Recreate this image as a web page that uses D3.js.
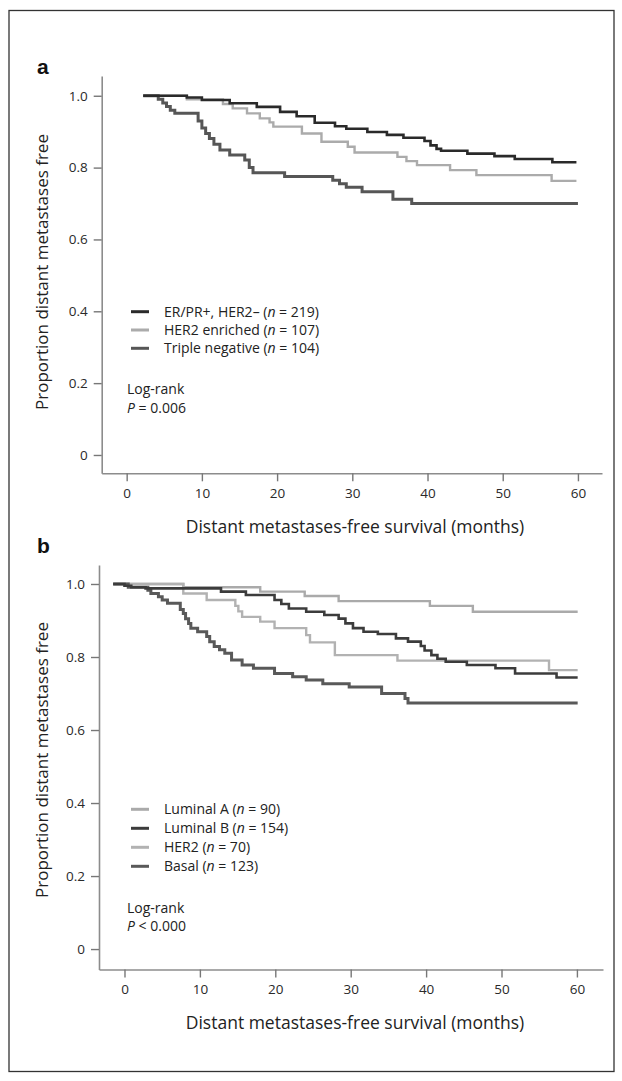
<!DOCTYPE html>
<html>
<head>
<meta charset="utf-8">
<script src="https://cdnjs.cloudflare.com/ajax/libs/d3/7.8.5/d3.min.js"></script>
<style>
  body { margin: 0; background: #fff; }
  text { font-family: "Open Sans", "Noto Sans", sans-serif; }
</style>
</head>
<body>
<div id="chart"></div>
<script>
  // x ticks / y ticks shared by both panels
  var xTicks = [0, 10, 20, 30, 40, 50, 60];
  var yTicks = [0, 0.2, 0.4, 0.6, 0.8, 1.0];

  // panel a : months and survival proportion at each step
  var erTime = [2.2, 8, 10, 13.7, 17.3, 20.4, 22.6, 25, 27.7, 29.2, 32, 34.6, 36.8, 39.6, 40.4, 41.2, 41.8, 45.3, 48.9, 51.6, 56.6, 59.8];
  var erSurv = [1.0, 0.995, 0.988, 0.979, 0.969, 0.955, 0.943, 0.925, 0.915, 0.908, 0.899, 0.891, 0.883, 0.874, 0.862, 0.852, 0.847, 0.839, 0.832, 0.824, 0.815, 0.815];

  var heTime = [2.2, 8, 12.8, 14.1, 16, 17.7, 19.0, 19.5, 23.3, 25.9, 29.4, 30.3, 36, 37.2, 38.6, 43, 46.5, 56.5, 59.8];
  var heSurv = [1.0, 0.99, 0.977, 0.965, 0.951, 0.937, 0.926, 0.914, 0.895, 0.872, 0.858, 0.842, 0.830, 0.818, 0.807, 0.793, 0.779, 0.763, 0.763];

  var tnTime = [2.2, 4.2, 4.8, 5.3, 5.8, 6.4, 9.5, 10.0, 10.5, 11.0, 11.6, 12.4, 13.7, 15.7, 16.3, 16.8, 21, 27.4, 28.3, 29.2, 31.3, 35.4, 37.9, 60];
  var tnSurv = [1.0, 0.99, 0.98, 0.97, 0.96, 0.951, 0.93, 0.91, 0.895, 0.881, 0.865, 0.849, 0.835, 0.821, 0.80, 0.786, 0.775, 0.765, 0.755, 0.745, 0.733, 0.712, 0.700, 0.700];

  // panel b
  var laTime = [-1.5, 7.8, 18, 23.9, 28.4, 40.5, 46.2, 60.1];
  var laSurv = [1.0, 0.991, 0.979, 0.967, 0.953, 0.94, 0.924, 0.924];

  var lbTime = [-1.5, 0, 0.9, 2.8, 12.8, 16.1, 19.9, 20.8, 21.8, 24.1, 26.5, 28.4, 29.3, 30.3, 31.7, 33.6, 36, 37.6, 39.3, 39.8, 40.7, 41.5, 42.6, 45.4, 49.2, 51.8, 57.3, 60.1];
  var lbSurv = [1.0, 0.995, 0.991, 0.988, 0.979, 0.970, 0.956, 0.945, 0.933, 0.924, 0.915, 0.905, 0.892, 0.879, 0.869, 0.863, 0.851, 0.842, 0.83, 0.818, 0.805, 0.795, 0.787, 0.778, 0.769, 0.755, 0.744, 0.744];

  var hbTime = [-1.5, 7.8, 10.9, 14.7, 15.1, 15.6, 18, 19.9, 24.1, 24.6, 27.9, 36.2, 56.3, 60.1];
  var hbSurv = [1.0, 0.974, 0.956, 0.94, 0.925, 0.910, 0.897, 0.879, 0.860, 0.840, 0.805, 0.790, 0.764, 0.764];

  var baTime = [-1.5, 0.5, 3.1, 3.5, 4.5, 5.0, 5.7, 7.4, 7.8, 8.1, 8.5, 8.8, 9.7, 10.9, 11.3, 11.9, 12.6, 13.3, 14.2, 15.6, 17.1, 19.9, 22.3, 24.1, 26.3, 29.8, 34.1, 37.2, 37.6, 60.1];
  var baSurv = [1.0, 0.991, 0.983, 0.974, 0.965, 0.956, 0.947, 0.930, 0.919, 0.905, 0.892, 0.879, 0.869, 0.856, 0.842, 0.829, 0.82, 0.81, 0.792, 0.778, 0.769, 0.755, 0.746, 0.737, 0.727, 0.718, 0.700, 0.686, 0.674, 0.674];

  var svg = d3.select("#chart")
    .append("svg")
    .attr("width", 622)
    .attr("height", 1081);

  // outer frame
  svg.append("rect")
    .attr("x", 9).attr("y", 10.5)
    .attr("width", 605).attr("height", 1061)
    .attr("fill", "none")
    .attr("stroke", "#333")
    .attr("stroke-width", 1.3);

  function zip(t, s) {
    return t.map(function (d, i) { return { t: d, s: s[i] }; });
  }

  function drawPanel(p) {
    var g = svg.append("g");

    var x = d3.scaleLinear().domain(p.xDomain).range(p.xRange);
    var y = d3.scaleLinear().domain(p.yDomain).range(p.yRange);

    // x axis
    var xAxis = g.append("g")
      .attr("transform", "translate(0," + p.yRange[0] + ")")
      .call(d3.axisBottom(x).tickValues(xTicks).tickSize(8).tickSizeOuter(0).tickPadding(7));

    // y axis
    var yAxis = g.append("g")
      .attr("transform", "translate(" + p.xRange[0] + ",0)")
      .call(d3.axisLeft(y).tickValues(yTicks).tickSize(8).tickSizeOuter(0).tickPadding(6)
        .tickFormat(function (d) { return d === 0 ? "0" : d3.format(".1f")(d); }));

    [xAxis, yAxis].forEach(function (a) {
      a.select(".domain").attr("stroke", "#8c8c8c").attr("stroke-width", 1.6);
      a.selectAll(".tick line").attr("stroke", "#777").attr("stroke-width", 1.4);
      a.selectAll(".tick text")
        .attr("fill", "#2a2a2a")
        .style("font-size", "13.5px")
        .style("font-family", "'Open Sans', sans-serif");
    });

    // survival curves
    var line = d3.line()
      .x(function (d) { return x(d.t); })
      .y(function (d) { return y(d.s); })
      .curve(d3.curveStepAfter);

    p.series.forEach(function (s) {
      g.append("path")
        .datum(zip(s.time, s.surv))
        .attr("fill", "none")
        .attr("stroke", s.color)
        .attr("stroke-width", s.width)
        .attr("d", line);
    });

    // legend
    p.legend.forEach(function (s, i) {
      var ly = p.legendY + i * p.legendGap;
      g.append("line")
        .attr("x1", 131).attr("x2", 149)
        .attr("y1", ly).attr("y2", ly)
        .attr("stroke", s.color)
        .attr("stroke-width", 3);
      var t = g.append("text")
        .attr("x", 164).attr("y", ly + 5)
        .attr("fill", "#222")
        .style("font-size", "14px");
      t.append("tspan").text(s.name + " (");
      t.append("tspan").style("font-style", "italic").text("n");
      t.append("tspan").text(" = " + s.n + ")");
    });

    // log-rank note
    g.append("text")
      .attr("x", 127).attr("y", p.logY + 5)
      .attr("fill", "#222")
      .style("font-size", "14px")
      .text("Log-rank");
    var pv = g.append("text")
      .attr("x", 127).attr("y", p.logY + 23.5)
      .attr("fill", "#222")
      .style("font-size", "14px");
    pv.append("tspan").style("font-style", "italic").text("P");
    pv.append("tspan").text(p.pText);

    // axis titles
    g.append("text")
      .attr("transform", "translate(48," + p.yTitleY + ") rotate(-90)")
      .attr("text-anchor", "middle")
      .attr("fill", "#222")
      .style("font-size", "17px")
      .text("Proportion distant metastases free");

    g.append("text")
      .attr("x", 355).attr("y", p.xTitleY)
      .attr("text-anchor", "middle")
      .attr("fill", "#222")
      .style("font-size", "17.5px")
      .text("Distant metastases-free survival (months)");

    // panel letter
    g.append("text")
      .attr("x", 37).attr("y", p.letterY)
      .attr("fill", "#111")
      .style("font-family", "'Liberation Sans', Arial, sans-serif")
      .style("font-weight", "bold")
      .style("font-size", "21px")
      .text(p.letter);
  }

  var er = { name: "ER/PR+, HER2\u2013", n: 219, time: erTime, surv: erSurv, color: "#2a2a2a", width: 2.6 };
  var he = { name: "HER2 enriched", n: 107, time: heTime, surv: heSurv, color: "#ababab", width: 2.4 };
  var tn = { name: "Triple negative ", n: 104, time: tnTime, surv: tnSurv, color: "#565656", width: 3 };

  drawPanel({
    letter: "a", letterY: 74,
    xDomain: [-3.32, 63.2], xRange: [101.7, 602],
    yDomain: [-0.051, 1.055], yRange: [473.3, 76],
    series: [he, tn, er],
    legend: [er, he, tn],
    legendY: 311.7, legendGap: 18.3,
    logY: 389, pText: " = 0.006",
    yTitleY: 272, xTitleY: 533
  });

  var la = { name: "Luminal A", n: 90, time: laTime, surv: laSurv, color: "#aaaaaa", width: 2.4 };
  var lb = { name: "Luminal B", n: 154, time: lbTime, surv: lbSurv, color: "#3c3c3c", width: 2.6 };
  var hb = { name: "HER2", n: 70, time: hbTime, surv: hbSurv, color: "#b2b2b2", width: 2.4 };
  var ba = { name: "Basal ", n: 123, time: baTime, surv: baSurv, color: "#595959", width: 3 };

  drawPanel({
    letter: "b", letterY: 553,
    xDomain: [-3.38, 63.46], xRange: [99, 603],
    yDomain: [-0.056, 1.052], yRange: [969.5, 565],
    series: [la, hb, ba, lb],
    legend: [la, lb, hb, ba],
    legendY: 809.3, legendGap: 19,
    logY: 907.7, pText: " < 0.000",
    yTitleY: 760, xTitleY: 1029
  });
</script>
</body>
</html>
